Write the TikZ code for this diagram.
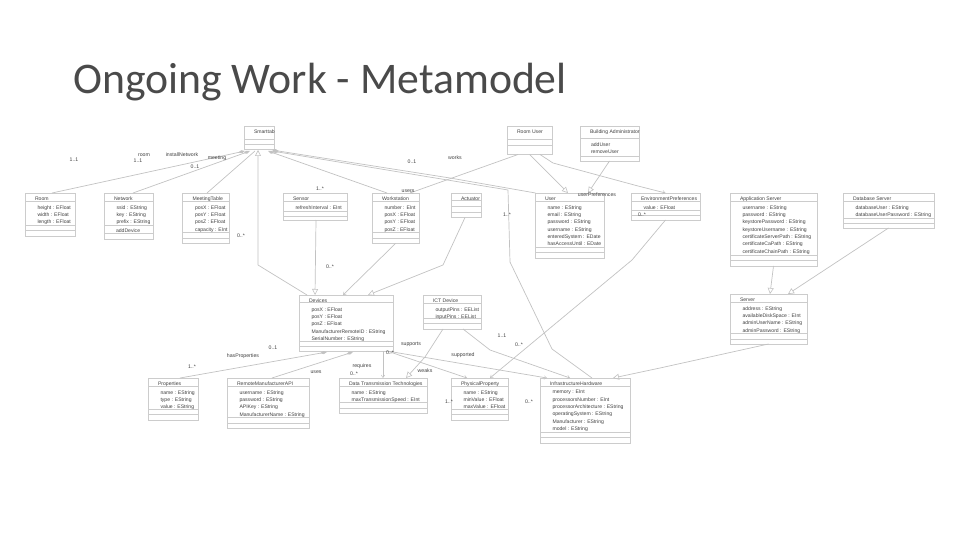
\documentclass[tikz,border=0pt]{standalone}
\usepackage{fontspec}
\setmainfont{Liberation Sans}
\newfontfamily\titlefont{Carlito}
\usetikzlibrary{arrows.meta}
\definecolor{boxc}{HTML}{CCCCCC}
\definecolor{linec}{HTML}{C2C2C2}
\definecolor{txtc}{HTML}{404040}
\definecolor{titlec}{HTML}{4A4A4A}
\tikzset{
  x=1pt,y=-1pt,
  umlframe/.style={draw=boxc,line width=.9pt,inner sep=0pt,outer sep=0pt,anchor=north west},
  umlsep/.style={draw=boxc,line width=.8pt},
  umltext/.style={anchor=north west,inner sep=0pt,outer sep=0pt,align=left,text=txtc,font=\fontsize{5.1}{7.33}\selectfont},
  lbl/.style={inner sep=0pt,text=txtc,font=\fontsize{5.2}{6}\selectfont},
  conn/.style={draw=linec,line width=.7pt,line join=round},
  hollow/.style={conn,-{Triangle[open,length=6pt,width=6pt,line width=.6pt]}},
  hollowstart/.style={conn,{Triangle[open,length=6pt,width=6pt,line width=.6pt]}-},
  barb/.style={conn,-{Straight Barb[length=2.5pt,width=3.5pt,line width=.5pt]}},
  comp/.style={conn,{Diamond[color=linec,fill=linec,length=7pt,width=3pt]}-},
}
% name, x1, y1, x2, y2, separators, title, attribute lines
\newcommand{\umlbox}[8]{%
  \pgfmathsetmacro{\bw}{#4-#2}\pgfmathsetmacro{\bh}{#5-#3}%
  \node[umlframe,minimum width=\bw pt,minimum height=\bh pt] (#1) at (#2,#3) {};%
  \foreach \s in {#6} {\draw[umlsep] (#2,\s) -- (#4,\s);}%
  \node[umltext] (#1t) at (#2+10,#3+3.6) {#7};%
  \node[umltext] (#1a) at (#2+12.5,#3+12.4) {#8};%
}
\begin{document}
\begin{tikzpicture}
\useasboundingbox (0,0) rectangle (960,540);
\node[anchor=base west,inner sep=0pt,text=titlec,font=\titlefont\fontsize{43.7}{50}\selectfont] (title) at (73,94) {Ongoing Work - Metamodel};

\umlbox{smart}{244}{126}{274}{149}{139,144}{Smarttab}{}
\umlbox{room}{25}{193}{75}{236}{201,225,230}{Room}{height : EFloat\\width : EFloat\\length : EFloat}
\umlbox{network}{104}{193}{153}{239.5}{201,225,233}{Network}{ssid : EString\\key : EString\\prefix : EString}
\node[umltext] (networkop) at (116,228.5) {addDevice};
\umlbox{meeting}{182.5}{193}{229.5}{243}{201,232,238}{MeetingTable}{posX : EFloat\\posY : EFloat\\posZ : EFloat\\capacity : EInt}
\umlbox{sensor}{283}{193}{347}{220}{201,211,216}{Sensor}{refreshInterval : EInt}
\umlbox{work}{372}{193}{419}{243.5}{201,232,238}{Workstation}{number : EInt\\posX : EFloat\\posY : EFloat\\posZ : EFloat}
\umlbox{actuator}{451}{193}{481}{217.5}{200,206,212}{Actuator}{}
\umlbox{user}{535}{193}{604}{258}{201,247,252}{User}{name : EString\\email : EString\\password : EString\\username : EString\\enteredSystem : EDate\\hasAccessUntil : EDate}
\umlbox{env}{631}{193}{700}{220}{201,210,215}{EnvironmentPreferences}{value : EFloat}
\umlbox{roomuser}{507}{126}{552}{154.5}{139,145}{Room User}{}
\umlbox{admin}{580}{126}{639}{161}{138,156}{Building Administrator}{}
\node[umltext] (adminop) at (591,142.5) {addUser\\removeUser};
\umlbox{app}{730}{193}{817}{266}{201,255,260}{Application Server}{username : EString\\password : EString\\keystorePassword : EString\\keystoreUsername : EString\\certificateServerPath : EString\\certificateCaPath : EString\\certificateChainPath : EString}
\umlbox{db}{843}{193}{934}{228}{201,218,223}{Database Server}{databaseUser : EString\\databaseUserPassword : EString}
\umlbox{device}{299}{295}{393}{351}{302,341,346}{Devices}{posX : EFloat\\posY : EFloat\\posZ : EFloat\\ManufacturerRemoteID : EString\\SerialNumber : EString}
\umlbox{ict}{423}{295}{481}{329}{303,318,323}{ICT Device}{outputPins : EEList\\inputPins : EEList}
\umlbox{server}{730}{294}{807}{344}{302,333,339}{Server}{address : EString\\availableDiskSpace : EInt\\adminUserName : EString\\adminPassword : EString}
\umlbox{props}{148}{378}{198}{420}{386,409,414}{Properties}{name : EString\\type : EString\\value : EString}
\umlbox{api}{227}{378}{309}{428}{386,417,423}{RemoteManufacturerAPI}{username : EString\\password : EString\\APIKey : EString\\ManufacturerName : EString}
\umlbox{data}{339}{378}{427}{413}{386,402,408}{Data Transmission Technologies}{name : EString\\maxTransmissionSpeed : EInt}
\umlbox{phys}{451}{378}{508}{420}{386,409,414}{PhysicalProperty}{name : EString\\minValue : EFloat\\maxValue : EFloat}
\umlbox{infra}{540}{378}{630}{443}{386,432,437}{InfrastructureHardware}{memory : EInt\\processorsNumber : EInt\\processorArchitecture : EString\\operatingSystem : EString\\Manufacturer : EString\\model : EString}

\coordinate (b1) at (258,265);
\coordinate (b2) at (443,265);
\coordinate (b3) at (508,190);
\coordinate (b4) at (510,262);
\coordinate (b5) at (552,349);
\coordinate (b6) at (450,178);
\coordinate (b7) at (553,163);
\coordinate (b8) at (638,186);
\coordinate (b9) at (632,260);
\coordinate (b10) at (425,357);
\coordinate (b11) at (490,350);
\coordinate (b12) at (660,368);

\draw[comp] ([xshift=-14pt,yshift=-2pt]smart.south) -- ([xshift=2pt]room.north);
\draw[comp] ([xshift=-9pt,yshift=-2pt]smart.south) -- ([xshift=4.5pt]network.north);
\draw[conn] ([xshift=-4pt,yshift=-2pt]smart.south) -- ([xshift=1pt]meeting.north);
\draw[hollowstart] ([xshift=-1pt,yshift=-1pt]smart.south) -- (b1) -- ([xshift=-39pt]device.north);
\draw[comp] ([xshift=9pt,yshift=-2pt]smart.south) -- ([xshift=-8.5pt]work.north);
\draw[comp] ([xshift=13pt,yshift=-2pt]smart.south) -- (b3) -- (b4) -- (b5) -- ([xshift=7pt]infra.north);
\draw[comp] ([xshift=13pt,yshift=-1pt]smart.south) -- (b6) -- ([xshift=-34pt]user.north);
\draw[hollow] ([xshift=1pt]sensor.south) -- ([xshift=-31pt]device.north);
\draw[barb] (work.south) -- ([xshift=-3pt]device.north);
\draw[hollow] ([xshift=-1pt]actuator.south) -- (b2) -- ([xshift=22pt]device.north);
\draw[barb] ([xshift=-11.5pt]roomuser.south) -- ([xshift=14.5pt]work.north);
\draw[hollow] (roomuser.south) -- ([xshift=-1.5pt]user.north);
\draw[barb] ([xshift=10.5pt]roomuser.south) -- (b7) -- (b8) -- (env.north);
\draw[hollow] (admin.south) -- ([xshift=18.5pt]user.north);
\draw[barb] (env.south) -- (b9) -- ([xshift=10.5pt]phys.north);
\draw[hollow] (app.south) -- ([xshift=1.5pt]server.north);
\draw[hollow] (db.south) -- ([xshift=19.5pt]server.north);
\draw[hollow] (server.south) -- (b12) -- ([xshift=28pt]infra.north);
\draw[hollow] ([xshift=-9pt]ict.south) -- (b10) -- ([xshift=23pt]data.north);
\draw[barb] ([xshift=11pt]ict.south) -- (b11) -- ([xshift=-15pt]infra.north);
\draw[comp] ([xshift=-19pt,yshift=-1pt]device.south) -- ([xshift=7pt]props.north);
\draw[comp] ([xshift=7pt,yshift=-1pt]device.south) -- ([xshift=4pt]api.north);
\draw[barb] ([xshift=37pt]device.south) -- (data.north);
\draw[barb] ([xshift=41pt]device.south) -- ([xshift=-38pt]infra.north);
\draw[barb] ([xshift=41pt]device.south) -- ([xshift=-12.5pt]phys.north);

\node[lbl] (l1) at (74,160) {1..1};
\node[lbl] (l2) at (144,155) {room};
\node[lbl] (l3) at (138,161) {1..1};
\node[lbl] (l4) at (182,155) {installNetwork};
\node[lbl] (l5) at (217,158) {meeting};
\node[lbl] (l6) at (195,167) {0..1};
\node[lbl] (l7) at (241,236) {0..*};
\node[lbl] (l8) at (320,189) {1..*};
\node[lbl] (l9) at (412,162) {0..1};
\node[lbl] (l10) at (455,158) {works};
\node[lbl] (l11) at (408,191) {users};
\node[lbl] (l12) at (507,215) {1..*};
\node[lbl] (l13) at (597,195) {userPreferences};
\node[lbl] (l14) at (642,215) {0..*};
\node[lbl] (l15) at (330,267) {0..*};
\node[lbl] (l16) at (273,348) {0..1};
\node[lbl] (l17) at (243,356) {hasProperties};
\node[lbl] (l18) at (192,367) {1..*};
\node[lbl] (l19) at (316,372) {uses};
\node[lbl] (l20) at (362,366) {requires};
\node[lbl] (l21) at (354,374) {0..*};
\node[lbl] (l22) at (390,353) {0..*};
\node[lbl] (l23) at (411,344) {supports};
\node[lbl] (l24) at (425,371) {weaks};
\node[lbl] (l25) at (463,355) {supported};
\node[lbl] (l26) at (502,336) {1..1};
\node[lbl] (l27) at (519,345) {0..*};
\node[lbl] (l28) at (449,402) {1..*};
\node[lbl] (l29) at (529,402) {0..*};
\end{tikzpicture}
\end{document}
